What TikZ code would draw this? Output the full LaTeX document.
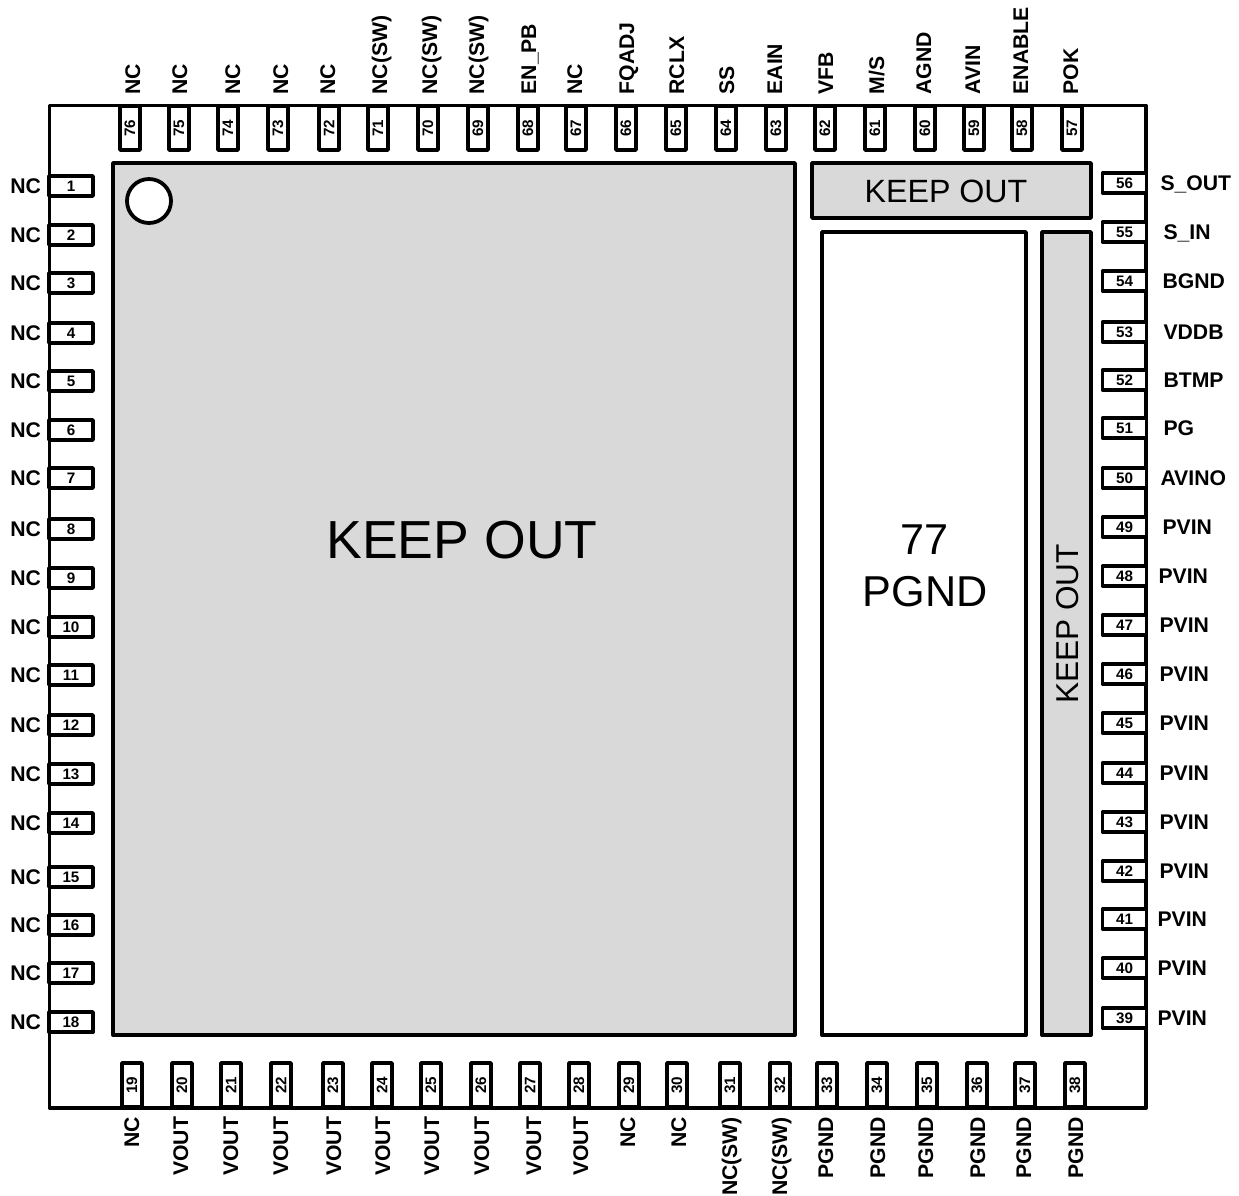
\documentclass[tikz,border=0pt]{standalone}
\usepackage{fontspec}
\setmainfont{Liberation Sans}
\usetikzlibrary{positioning}

\tikzset{
	outline/.style={line width=1.9pt,line join=round},
	keepout/.style={outline,draw=black,fill=black!15},
	pad/.style={draw,outline,fill=white,inner sep=0pt,outer sep=0pt,minimum width=22pt,minimum height=10pt,font=\bfseries\fontsize{7.6}{9}\selectfont},
	vpad/.style={pad,rotate=90},
	pinlabel/.style={inner sep=0pt,outer sep=0pt,text height=.716em,text depth=0pt,font=\bfseries\fontsize{10.6}{12}\selectfont},
	vlabel/.style={pinlabel,rotate=90}
}

\begin{document}
\begin{tikzpicture}[x=0.5pt,y=-0.5pt]
	\useasboundingbox (0,0) rectangle (1239,1196);

	\draw[outline] (49.5,105.5) rectangle (1146,1108);

	\draw[keepout] (113,163) rectangle (795,1035);
	\draw[keepout] (812,163) rectangle (1091,218);
	\draw[keepout] (1042,232) rectangle (1091,1035);
	\draw[outline,fill=white] (822,232) rectangle (1026,1035);
	\draw[outline,fill=white] (149,201) circle (22);

	\node[font=\fontsize{26.8}{30}\selectfont] (main) at (462,540) {KEEP OUT};
	\node[font=\fontsize{16.1}{19}\selectfont] (upper) at (946,191) {KEEP OUT};
	\node[rotate=90,font=\fontsize{15.8}{19}\selectfont] (side) at (1068,624) {KEEP OUT};
	\node[align=center,font=\fontsize{21.6}{26}\selectfont] (pgnd) at (925,566) {77\\PGND};

	% left side
	\foreach \n/\y in {1/186,2/235,3/283,4/333,5/381,6/430,7/478,8/529,9/578,10/627,11/675,12/725,13/774,14/823,15/877,16/925,17/973,18/1022} {
		\node[pad] (p\n) at (71,\y) {\n};
		\node[pinlabel,left=4pt of p\n] (l\n) {NC};
	}

	% right side
	\foreach \n/\y/\d/\t in {56/183/7/S\_OUT,55/232/8.5/S\_IN,54/281/8/BGND,53/332/8.5/VDDB,52/380/8.5/BTMP,51/428/8.5/PG,50/478/7/AVINO,49/527/8/PVIN,48/576/6/PVIN,47/625/6.5/PVIN,46/674/6.5/PVIN,45/723/6.5/PVIN,44/773/6.5/PVIN,43/822/6.5/PVIN,42/871/6.5/PVIN,41/919/5.5/PVIN,40/968/5.5/PVIN,39/1018/5.5/PVIN} {
		\node[pad] (p\n) at (1124.5,\y) {\n};
		\node[pinlabel,right=\d pt of p\n] (l\n) {\t};
	}

	% top side
	\foreach \n/\x/\d/\t in {76/130/1.5/NC,75/179/.5/NC,74/228/2.5/NC,73/278/1.5/NC,72/329/-.5/NC,71/378/1/NC(SW),70/428/1/NC(SW),69/478/-.5/NC(SW),68/528/.5/EN\_PB,67/576/-.5/NC,66/626/.5/FQADJ,65/676/.5/RCLX,64/726/.5/SS,63/776/-.5/EAIN,62/825/.5/VFB,61/875/1/{M/S},60/925/-.5/AGND,59/974/-.5/AVIN,58/1022/-.5/ENABLE,57/1072/-.5/POK} {
		\node[vpad] (p\n) at (\x,128) {\n};
		\node[xshift=\d pt,vlabel,above=5.8pt of p\n.east,anchor=west] (l\n) {\t};
	}

	% bottom side
	\foreach \n/\x/\d/\t in {19/132/0/NC,20/182/-.5/VOUT,21/231/0/VOUT,22/281/0/VOUT,23/333/.5/VOUT,24/382/.5/VOUT,25/431/.5/VOUT,26/481/.5/VOUT,27/530/2/VOUT,28/579/1/VOUT,29/629/-.5/NC,30/677/1/NC,31/730/0/NC(SW),32/780/0/NC(SW),33/827/-.5/PGND,34/877/.5/PGND,35/927/-.5/PGND,36/977/.5/PGND,37/1025/-.5/PGND,38/1075/.5/PGND} {
		\node[vpad] (p\n) at (\x,1085) {\n};
		\node[xshift=\d pt,vlabel,below=5pt of p\n.west,anchor=east] (l\n) {\t};
	}
\end{tikzpicture}
\end{document}
